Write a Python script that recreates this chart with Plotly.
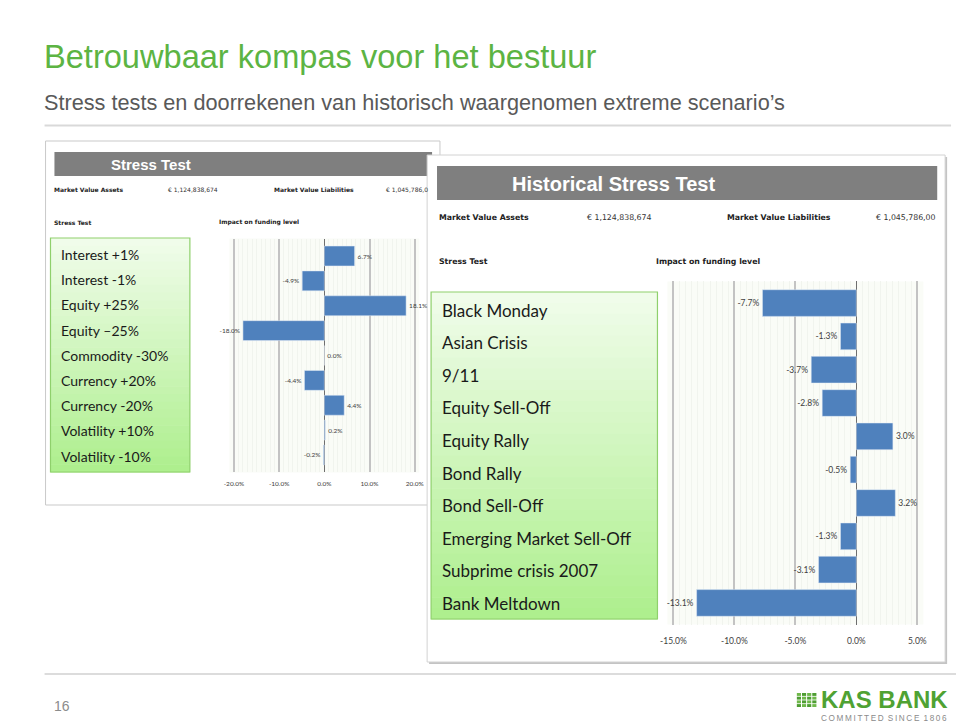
import plotly.graph_objects as go

# ---------------- data ----------------
left_categories = ["Interest +1%", "Interest -1%", "Equity +25%", "Equity \u201325%",
                   "Commodity -30%", "Currency +20%", "Currency -20%",
                   "Volatility +10%", "Volatility -10%"]
left_values = [6.7, -4.9, 18.1, -18.0, 0.0, -4.4, 4.4, 0.2, -0.2]
left_ticks = [-20, -10, 0, 10, 20]

right_categories = ["Black Monday", "Asian Crisis", "9/11", "Equity Sell-Off",
                    "Equity Rally", "Bond Rally", "Bond Sell-Off",
                    "Emerging Market Sell-Off", "Subprime crisis 2007", "Bank Meltdown"]
right_values = [-7.7, -1.3, -3.7, -2.8, 3.0, -0.5, 3.2, -1.3, -3.1, -13.1]
right_ticks = [-15, -10, -5, 0, 5]

title_text = "Betrouwbaar kompas voor het bestuur"
subtitle_text = "Stress tests en doorrekenen van historisch waargenomen extreme scenario\u2019s"

W, H = 960, 726


def px(x):
    return x / W


def py(y):
    return 1 - y / H


BAR = "#4f81bd"
HDR = "#7f7f7f"
FONT_UI = "DejaVu Sans"
FONT_LIST = "Lato"

fig = go.Figure()

fig.add_trace(go.Bar(
    x=left_values, y=left_categories, orientation="h", marker_color=BAR, width=0.8,
    texttemplate="%{x:.1f}%", textposition="outside", constraintext="none",
    textfont=dict(size=6.5, color="#404040", family=FONT_LIST), cliponaxis=False,
    xaxis="x", yaxis="y", showlegend=False, hoverinfo="skip"))

fig.add_trace(go.Bar(
    x=right_values, y=right_categories, orientation="h", marker_color=BAR, width=0.8,
    texttemplate="%{x:.1f}%", textposition="outside", constraintext="none",
    textfont=dict(size=8.5, color="#404040", family=FONT_LIST), cliponaxis=False,
    xaxis="x2", yaxis="y2", showlegend=False, hoverinfo="skip"))

shapes = []


def rect(x0, y0, x1, y1, fill, line=None, lw=0):
    shapes.append(dict(type="rect", xref="paper", yref="paper", layer="below",
                       x0=px(x0), x1=px(x1), y0=py(y0), y1=py(y1),
                       fillcolor=fill, line=dict(color=line or fill, width=lw)))


def hline(x0, x1, y, color, w):
    shapes.append(dict(type="line", xref="paper", yref="paper", layer="below",
                       x0=px(x0), x1=px(x1), y0=py(y), y1=py(y),
                       line=dict(color=color, width=w)))


def hexrgb(c):
    c = c.lstrip("#")
    return [int(c[i:i + 2], 16) for i in (0, 2, 4)]


def gradient_box(x0, y0, x1, y1, top, bottom, border, n=30):
    a, b = hexrgb(top), hexrgb(bottom)
    h = (y1 - y0) / n
    for i in range(n):
        t = i / (n - 1)
        c = "rgb(%d,%d,%d)" % tuple(round(a[k] + (b[k] - a[k]) * t) for k in range(3))
        rect(x0, y0 + i * h, x1, y0 + (i + 1) * h + 0.6, c)
    shapes.append(dict(type="rect", xref="paper", yref="paper", layer="below",
                       x0=px(x0), x1=px(x1), y0=py(y0), y1=py(y1),
                       fillcolor="rgba(0,0,0,0)", line=dict(color=border, width=1.2)))


# slide separators
hline(38, 955, 125.5, "#d9d9d9", 2)
hline(38, 960, 674, "#d0d0d0", 1.5)

# left panel
rect(39, 141, 438, 505, "white", "#c9c9c9", 1)
rect(48, 152, 430, 176, HDR)
gradient_box(44, 238, 185, 472, "#f0fcea", "#aeef8e", "#8fd06c")

# right panel (drawn over left one)
rect(427, 157, 951, 664, "#c4c4c4")
rect(425, 155, 949, 662, "white", "#d2d2d2", 1)
rect(435, 166, 941, 200, HDR)
gradient_box(429, 292, 658, 619, "#f0fcea", "#aeef8e", "#8fd06c")

# logo icon (grid of squares)
for r in range(4):
    for c in range(4):
        col = "#6fb84a" if (r + c) % 2 == 0 else "#4e9d33"
        rect(799 + c * 5.2, 693 + r * 3.7, 799 + c * 5.2 + 4.2, 693 + r * 3.7 + 2.9, col)

# plot area backgrounds
for xr, yr in (("x domain", "y domain"), ("x2 domain", "y2 domain")):
    shapes.append(dict(type="rect", xref=xr, yref=yr, layer="below", x0=0, x1=1, y0=0, y1=1,
                       fillcolor="#fafcf7", line=dict(width=0)))

annotations = []


def txt(x, y, s, size, color, family, xanchor="left"):
    annotations.append(dict(x=px(x), y=py(y), xref="paper", yref="paper", text=s,
                            showarrow=False, xanchor=xanchor, yanchor="middle",
                            font=dict(size=size, color=color, family=family)))


txt(35, 57, title_text, 32.6, "#5cb443", "Liberation Sans")
txt(35, 103, subtitle_text, 21.7, "#595959", "Liberation Sans")

# left panel texts
txt(146, 164, "<b>Stress Test</b>", 15, "white", "Liberation Sans", "center")
txt(46, 189, "<b>Market Value Assets</b>", 6, "#222", FONT_UI)
txt(161, 189, "\u20ac 1,124,838,674", 6, "#333", FONT_UI)
txt(268, 189, "<b>Market Value Liabilities</b>", 6, "#222", FONT_UI)
txt(381, 189, "\u20ac 1,045,786,0", 6, "#333", FONT_UI)
txt(46, 222, "<b>Stress Test</b>", 6, "#222", FONT_UI)
txt(212, 222, "<b>Impact on funding level</b>", 6, "#222", FONT_UI)

# right panel texts
txt(614, 184, "<b>Historical Stress Test</b>", 20, "white", "Liberation Sans", "center")
txt(435, 217, "<b>Market Value Assets</b>", 7.8, "#222", FONT_UI)
txt(585, 217, "\u20ac 1,124,838,674", 7.8, "#333", FONT_UI)
txt(726, 217, "<b>Market Value Liabilities</b>", 7.8, "#222", FONT_UI)
txt(877, 217, "\u20ac 1,045,786,00", 7.8, "#333", FONT_UI)
txt(435, 261, "<b>Stress Test</b>", 7.8, "#222", FONT_UI)
txt(654, 261, "<b>Impact on funding level</b>", 7.8, "#222", FONT_UI)

# category lists
for i, name in enumerate(left_categories):
    txt(53, 254.5 + i * 25.2, name, 14, "#1a1a1a", FONT_LIST)
for i, name in enumerate(right_categories):
    txt(438, 310 + i * 32.6, name, 17, "#1a1a1a", FONT_LIST)

# footer
txt(46, 706, "16", 14, "#8c8c8c", "Liberation Sans")
txt(821, 699, "<b>KAS BANK</b>", 24, "#4fa233", "Liberation Sans")
txt(821, 718.5, "\u2009".join("COMMITTED") + "\u2002" + "\u2009".join("SINCE") + "\u2002"
    + "\u2009".join("1806"), 8.2, "#8a8a8a", "Liberation Sans")

axis_common = dict(showline=False, ticks="", zeroline=True, zerolinecolor="#6e6e6e",
                   zerolinewidth=1.2, gridcolor="#c3c3c3", gridwidth=1.5, showgrid=True,
                   fixedrange=True)

fig.update_layout(
    width=W, height=H, autosize=False,
    margin=dict(l=0, r=0, t=0, b=0),
    paper_bgcolor="white", plot_bgcolor="rgba(0,0,0,0)",
    shapes=shapes, annotations=annotations, showlegend=False,
    xaxis=dict(domain=[px(225), px(417)], range=[-21, 21], tickmode="array",
               tickvals=left_ticks, ticktext=["%.1f%%" % v for v in left_ticks],
               tickfont=dict(size=6.5, color="#404040", family=FONT_LIST),
               ticklabelstandoff=6, anchor="y",
               minor=dict(dtick=1, showgrid=True, gridcolor="#f1f4ee", gridwidth=0.5),
               **axis_common),
    yaxis=dict(domain=[py(472.4), py(238.6)], type="category",
               categoryorder="array", categoryarray=left_categories,
               range=[8.7, -0.7], showticklabels=False, showgrid=False, zeroline=False,
               anchor="x", fixedrange=True),
    xaxis2=dict(domain=[px(668), px(927)], range=[-15.5, 5.5], tickmode="array",
                tickvals=right_ticks, ticktext=["%.1f%%" % v for v in right_ticks],
                tickfont=dict(size=8.5, color="#404040", family=FONT_LIST),
                ticklabelstandoff=10, anchor="y2",
                minor=dict(dtick=0.5, showgrid=True, gridcolor="#f1f4ee", gridwidth=0.5),
                **axis_common),
    yaxis2=dict(domain=[py(624.6), py(281.4)], type="category",
                categoryorder="array", categoryarray=right_categories,
                range=[9.65, -0.65], showticklabels=False, showgrid=False, zeroline=False,
                anchor="x2", fixedrange=True),
)

fig.write_html("out.html")
